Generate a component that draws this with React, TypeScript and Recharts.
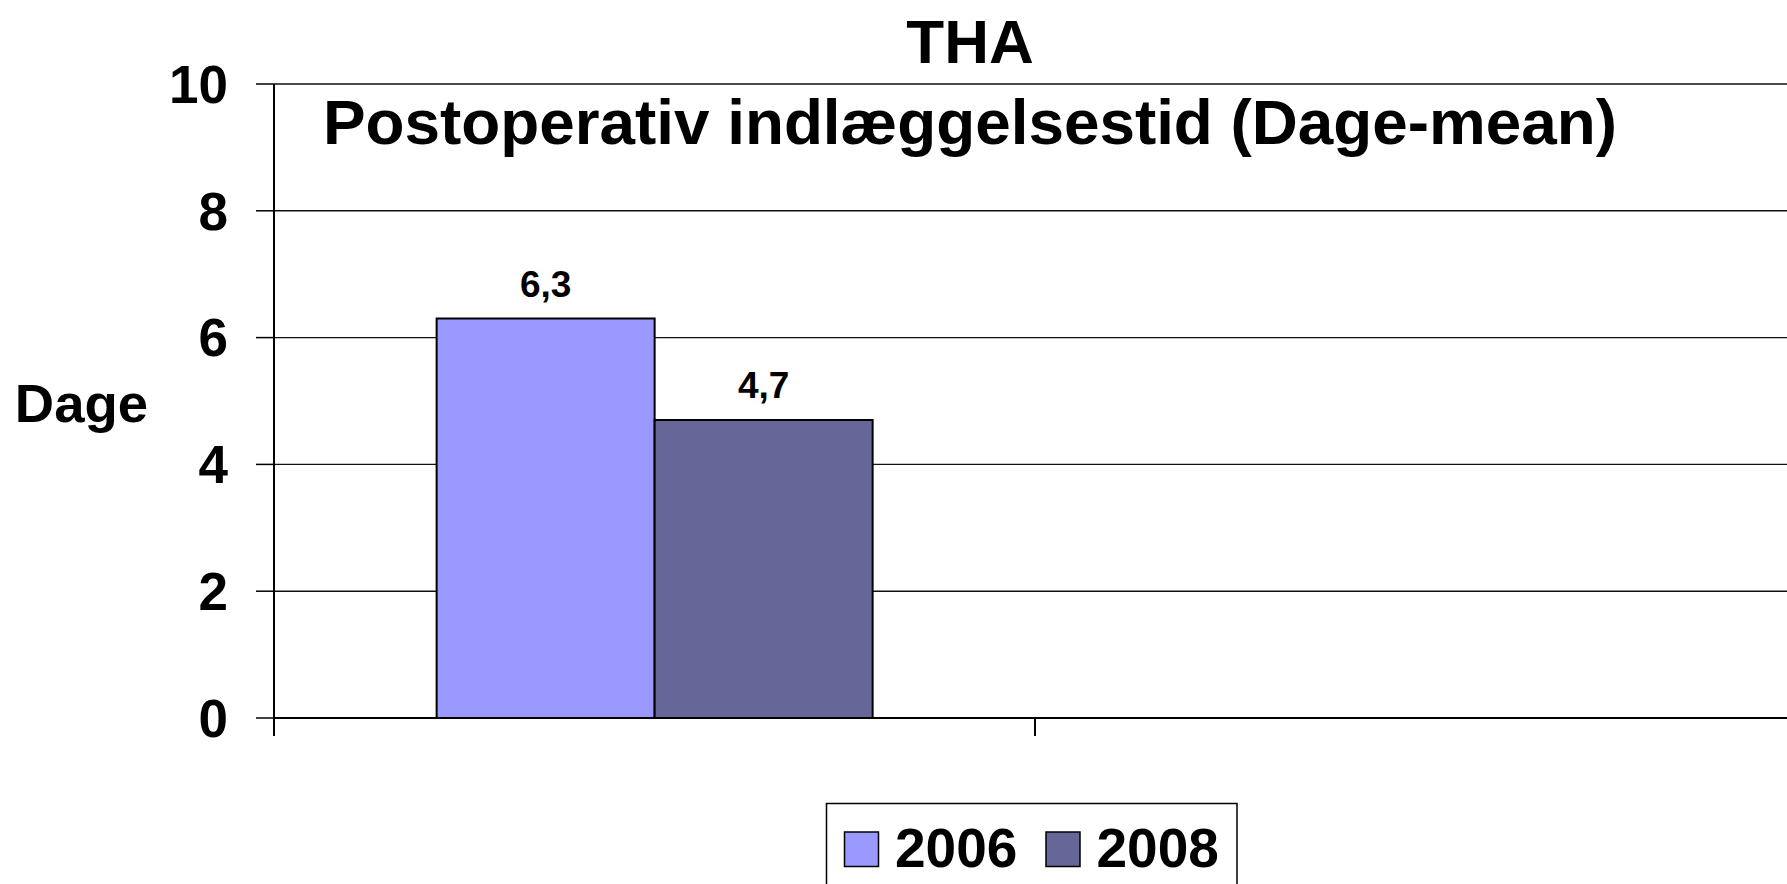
import React from "react";
import { BarChart, Bar, XAxis, YAxis, CartesianGrid, LabelList } from "recharts";

const categories = ["THA", ""];
const values2006: (number | null)[] = [6.3, null];
const values2008: (number | null)[] = [4.7, null];
const yTicks = [0, 2, 4, 6, 8, 10];
const boundaryTicks = [0, 1, 2];
const seriesNames = ["2006", "2008"];
const seriesColors = ["#9999FF", "#666699"];
const title = "THA";
const subtitle = "Postoperativ indlæggelsestid (Dage-mean)";
const yLabel = "Dage";

const data = categories.map((c, i) => ({ cat: c, idx: i, v2006: values2006[i], v2008: values2008[i] }));

const FONT = "'Liberation Sans', Arial, Helvetica, sans-serif";

const fmt = (v: any) => (v === null || v === undefined ? "" : String(v).replace(".", ","));

export default function App() {
  return (
    <div style={{ position: "fixed", left: 0, top: 0, width: 1787, height: 884, overflow: "hidden", background: "#fff" }}>
      <BarChart
        width={1806}
        height={884}
        data={data}
        margin={{ top: 84, right: 10, left: 0, bottom: 0 }}
        barCategoryGap="21.37%"
        barGap={0}
        style={{ fontFamily: FONT }}
      >
        <CartesianGrid vertical={false} stroke="#111" strokeWidth={1.4} />
        <XAxis dataKey="cat" xAxisId={0} hide height={0} />
        <XAxis
          xAxisId="b"
          dataKey={(d: any) => d.idx + 0.5}
          type="number"
          domain={[0, 2]}
          ticks={boundaryTicks}
          interval={0}
          allowDataOverflow
          height={166}
          tickSize={18}
          minTickGap={0}
          axisLine={{ stroke: "#000", strokeWidth: 2 }}
          tickLine={{ stroke: "#000", strokeWidth: 2 }}
          tickFormatter={() => ""}
        />
        <YAxis
          domain={[0, 10]}
          ticks={yTicks}
          width={274}
          tickSize={18}
          tickMargin={28}
          axisLine={{ stroke: "#000", strokeWidth: 2 }}
          tickLine={{ stroke: "#000", strokeWidth: 1.5 }}
          tick={{ fill: "#000", fontSize: 53, fontWeight: 700, fontFamily: FONT }}
        />
        <Bar dataKey="v2006" name={seriesNames[0]} fill={seriesColors[0]} stroke="#000" strokeWidth={2} isAnimationActive={false}>
          <LabelList dataKey="v2006" position="top" offset={22} formatter={fmt} fill="#000" fontSize={37} fontWeight={700} fontFamily={FONT} />
        </Bar>
        <Bar dataKey="v2008" name={seriesNames[1]} fill={seriesColors[1]} stroke="#000" strokeWidth={2} isAnimationActive={false}>
          <LabelList dataKey="v2008" position="top" offset={22} formatter={fmt} fill="#000" fontSize={37} fontWeight={700} fontFamily={FONT} />
        </Bar>
      </BarChart>
      <svg width={1787} height={884} style={{ position: "absolute", left: 0, top: 0, pointerEvents: "none" }}>
        <g fontFamily={FONT} fontWeight={700} fill="#000">
          <text x={970} y={63} fontSize={62} textAnchor="middle">{title}</text>
          <text x={970} y={144} fontSize={63.8} textAnchor="middle">{subtitle}</text>
          <text x={81.5} y={421.5} fontSize={54.5} textAnchor="middle">{yLabel}</text>
        </g>
        <rect x={826.5} y={803.5} width={410.5} height={110} fill="#fff" stroke="#000" strokeWidth={1.5} />
        <rect x={844.5} y={832} width={34} height={34.5} fill={seriesColors[0]} stroke="#000" strokeWidth={1.5} />
        <text x={895} y={866.5} fontSize={55} fontWeight={700} fontFamily={FONT}>{seriesNames[0]}</text>
        <rect x={1046} y={832} width={34} height={34.5} fill={seriesColors[1]} stroke="#000" strokeWidth={1.5} />
        <text x={1096.5} y={866.5} fontSize={55} fontWeight={700} fontFamily={FONT}>{seriesNames[1]}</text>
      </svg>
    </div>
  );
}
